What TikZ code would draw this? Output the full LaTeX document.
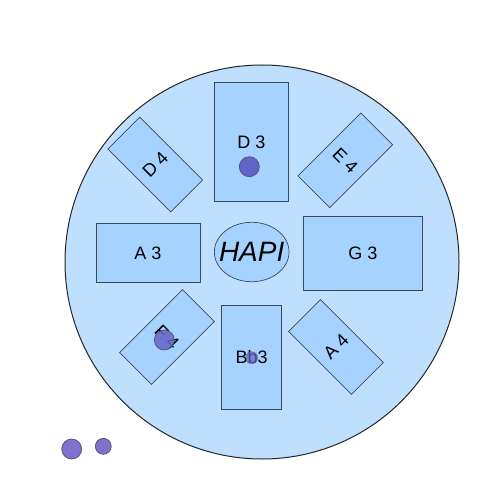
\documentclass[tikz,border=0pt]{standalone}
\usepackage{fontspec}
\setmainfont{Liberation Sans}
\usetikzlibrary{shapes.geometric}
\definecolor{platefill}{HTML}{BFDFFF}
\definecolor{barfill}{HTML}{A6D2FF}
\definecolor{barline}{HTML}{3A4A5A}
\definecolor{dotfill}{HTML}{6464C8}
\definecolor{dotlight}{HTML}{8070D0}
\tikzset{
  plate/.style={circle, draw=black!85, line width=1pt, fill=platefill, inner sep=0pt, minimum size=394pt},
  bar/.style={rectangle, draw=barline, line width=0.7pt, fill=barfill, inner sep=0pt, font=\fontsize{18}{20}\selectfont},
  smallbar/.style={bar, minimum width=45pt, minimum height=89pt},
  hub/.style={ellipse, draw=barline, line width=0.7pt, fill=barfill, inner sep=0pt, minimum width=74.7pt, minimum height=59.4pt},
  hubtext/.style={inner sep=0pt, font=\fontsize{28}{30}\selectfont\itshape},
  dot/.style={circle, draw=black!70, line width=0.6pt, fill=dotfill, inner sep=0pt},
}
\begin{document}
\begin{tikzpicture}[x=1pt,y=-1pt]
\useasboundingbox (0,0) rectangle (500,500);
\node[plate] (plate) at (262,262) {};
\node[bar, minimum width=74pt, minimum height=119.4pt] (d3) at (251.3,142) {D 3};
\node[bar, minimum width=104pt, minimum height=59.4pt] (a3) at (148,253) {A 3};
\node[bar, minimum width=119.4pt, minimum height=74.7pt] (g3) at (363,253.3) {G 3};
\node[bar, minimum width=60pt, minimum height=104.3pt] (bb3) at (251.7,357) {Bb3};
\node[hub] (hapi) at (251.7,252) {};
\node[hubtext] (hapilabel) at (hapi.center) {HAPI};
\node[smallbar, rotate=45] (d4) at (155.3,164.5) {D 4};
\node[smallbar, rotate=-45] (e4) at (345.3,160.3) {E 4};
\node[smallbar, rotate=-45] (f4) at (167,337) {F 4};
\node[dot, minimum size=20pt, fill opacity=0.85] (f4dot) at (164.3,340) {};
\node[smallbar, rotate=45] (a4) at (336,347) {A 4};
\node[dot, minimum size=20pt] (d3dot) at (249.3,166.7) {};
\node[dot, minimum size=12pt, fill opacity=0.7, draw opacity=0.5] (bbdot) at (251.7,357.7) {};
\node[dot, fill=dotlight, minimum size=20pt] (extra1) at (71.7,449) {};
\node[dot, fill=dotlight, minimum size=16pt] (extra2) at (103.3,446.3) {};
\end{tikzpicture}
\end{document}
